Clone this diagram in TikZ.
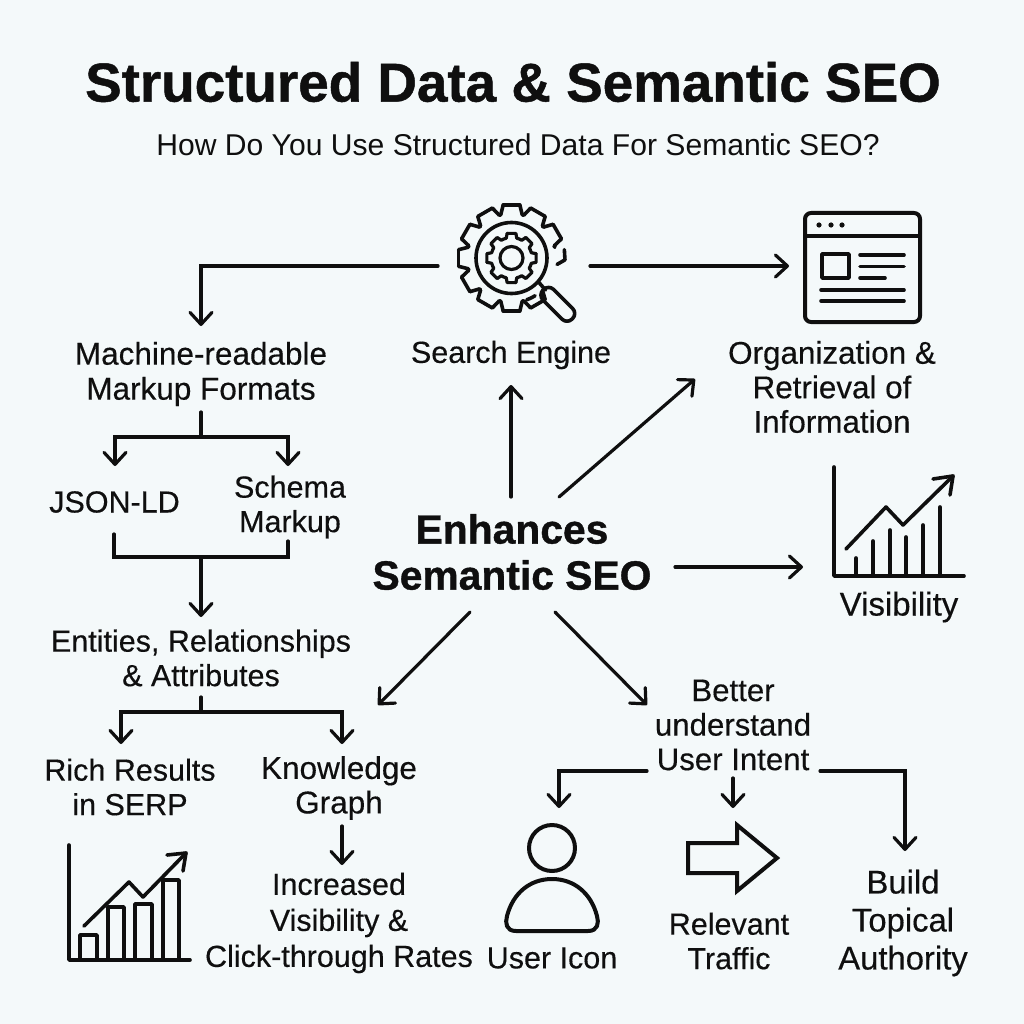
\documentclass[tikz,border=0pt]{standalone}
\usepackage{fontspec}
\setmainfont{Liberation Sans}
\newfontfamily\medfont[FakeBold=0.35]{Liberation Sans}
\newfontfamily\heavyfont[UprightFont=* Bold,FakeBold=0.9]{Liberation Sans}
\usetikzlibrary{arrows.meta}
\definecolor{bg}{HTML}{F4F9FA}
\definecolor{ink}{HTML}{0F0F0F}
\tikzset{
  lbl/.style={text=ink,align=center,inner sep=0pt,font=\fontsize{30.5}{34.5}\medfont\selectfont},
  head/.style={text=ink,align=center,inner sep=0pt,font=\fontsize{40.8}{46}\heavyfont\selectfont},
  conn/.style={draw=ink,line width=3.2pt,line cap=round,line join=miter},
  arr/.style={conn,-{Straight Barb[length=12pt,width=22pt,line width=3.2pt,round]}},
  icon/.style={draw=ink,line width=3.6pt,line cap=round,line join=round},
}
\begin{document}
\begin{tikzpicture}[x=1pt,y=-1pt]
\useasboundingbox (0,0) rectangle (1024,1024);
\fill[bg] (0,0) rectangle (1024,1024);
% texts
\node[text=ink,inner sep=0pt,font=\fontsize{54.8}{60}\heavyfont\selectfont] (title) at (513,82) {Structured Data \& Semantic SEO};
\node[text=ink,inner sep=0pt,font=\fontsize{30.1}{34}\selectfont] (sub) at (518,145) {How Do You Use Structured Data For Semantic SEO?};
\node[lbl,font=\fontsize{31.5}{35}\medfont\selectfont] (markup) at (201,374) {Machine-readable\\Markup Formats};
\node[lbl] (search) at (511,355) {Search Engine};
\node[lbl,font=\fontsize{31.4}{34.5}\medfont\selectfont] (org) at (832,387) {Organization \&\\Retrieval of\\Information};
\node[lbl] (json) at (114.5,502) {JSON-LD};
\node[lbl] (schema) at (290,507) {Schema\\Markup};
\node[head] (seo) at (512,552) {Enhances\\Semantic SEO};
\node[lbl,font=\fontsize{33}{35}\medfont\selectfont] (vis) at (899,607) {Visibility};
\node[lbl] (ent) at (201,658) {Entities, Relationships\\\& Attributes};
\node[lbl,font=\fontsize{31.2}{34.5}\medfont\selectfont] (intent) at (733,725) {Better\\understand\\User Intent};
\node[lbl] (rich) at (130,787) {Rich Results\\in SERP};
\node[lbl,font=\fontsize{31.5}{34.5}\medfont\selectfont] (kg) at (339,788) {Knowledge\\Graph};
\node[lbl,font=\fontsize{30.5}{36}\medfont\selectfont] (inc) at (339,923) {Increased\\Visibility \&\\Click-through Rates};
\node[lbl] (usr) at (552,958) {User Icon};
\node[lbl] (traffic) at (729,941) {Relevant\\Traffic};
\node[lbl,font=\fontsize{32.8}{38}\medfont\selectfont] (auth) at (903,923) {Build\\Topical\\Authority};
% connector ends
\foreach \n/\x/\y in {a1/438/266,a2/201/266,a3/201/326,b1/590/266,b2/789/266,
  c1/511/497,c2/511/385,d1/559/497,d2/695/379,e1/675/567,e2/803/567,
  f1/470/612,f2/378/705,g1/555/612,g2/647/705,
  h1/201/412,h2/201/437,h3/115/437,h4/115/466,h5/288/437,h6/288/466,
  i1/114/534,i2/114/557,i3/288/557,i4/288/541,i5/201/557,i6/201/617,
  j1/201/697,j2/201/712,j3/121/712,j4/121/744,j5/342/712,j6/342/744,
  k1/342/826,k2/342/865,
  l1/647/771,l2/559/771,l3/559/808,m1/733/778,m2/733/808,n1/820/771,n2/905/771,n3/905/851}
  {\coordinate (\n) at (\x,\y);}
\draw[arr] (a1)--(a2)--(a3);
\draw[arr] (b1)--(b2);
\draw[arr] (c1)--(c2);
\draw[arr] (d1)--(d2);
\draw[arr] (e1)--(e2);
\draw[arr] (f1)--(f2);
\draw[arr] (g1)--(g2);
\draw[conn] (h1)--(h2);
\draw[arr] (h2)--(h3)--(h4);
\draw[arr] (h2)--(h5)--(h6);
\draw[conn] (i1)--(i2)--(i3)--(i4);
\draw[arr] (i5)--(i6);
\draw[conn] (j1)--(j2);
\draw[arr] (j2)--(j3)--(j4);
\draw[arr] (j2)--(j5)--(j6);
\draw[arr] (k1)--(k2);
\draw[arr] (l1)--(l2)--(l3);
\draw[arr] (m1)--(m2);
\draw[arr] (n1)--(n2)--(n3);
% gear + magnifier
\begin{scope}[shift={(511.5,258)}]
  \foreach \a in {0,30,...,330}{
    \pgfmathsetmacro{\skip}{(\a==30||\a==0)?1:0}
    \ifdim\skip pt=0pt
    \draw[icon] (\a-9:53.5)--(\a+9:53.5);
    \draw[icon] (\a-9:53.5)--(\a-14:44.5);
    \draw[icon] (\a+9:53.5)--(\a+14:44.5);
    \draw[icon] (\a+14:44.5)--(\a+16:44.5);
    \fi
  }
  \draw[icon] (-16:44.5)--(-14:44.5);
  \draw[icon] (-9:53.5)--(2:53.5)--(8:46);
  \draw[icon] (58:44.5)--(64:44.5)--(70:44.5);
  \draw[icon] (0,0) circle[radius=35.5];
  \foreach \a in {0,45,...,315}{
    \draw[icon,line width=3.2pt] (\a-10:25)--(\a+10:25)--(\a+15:20.5)--(\a+22:20.5)--(\a+30:20.5)--(\a+35:25);
  }
  \draw[icon,line width=3.2pt] (0,0) circle[radius=11.5];
  \draw[icon] (27,24)--(34,32);
  \begin{scope}[rotate=-45]
    \draw[icon,rounded corners=7pt] (45,-7.5) rectangle (86,7.5);
  \end{scope}
\end{scope}
% browser
\draw[icon,line width=4pt,rounded corners=6pt] (805,213) rectangle (920,322);
\draw[icon] (805,236)--(920,236);
\foreach \x in {819,831,842}{\fill[ink] (\x,225) circle[radius=2.6];}
\draw[icon] (822,254) rectangle (849,278);
\draw[icon] (860,255)--(904,255);
\draw[icon] (860,266.5)--(904,266.5);
\draw[icon] (860,278)--(885,278);
\draw[icon] (821,290)--(904,290);
\draw[icon] (821,301)--(904,301);
% chart with thin bars
\draw[icon] (834,467)--(834,576)--(964,576);
\foreach \x/\y in {856/558,873/541,890/530,906/537,923/525,940/507}{\draw[icon] (\x,576)--(\x,\y);}
\draw[icon] (846,549)--(886,507)--(903,525)--(953,476);
\draw[icon] (933,479)--(953,476)--(950,495);
% chart with bars
\draw[icon] (69,845)--(69,960)--(190,960);
\foreach \a/\b/\y in {80/97/935,108/124/907,135/152/904,163/179/880}{\draw[icon] (\a,960)--(\a,\y)--(\b,\y)--(\b,960);}
\draw[icon] (84,926)--(129,882)--(143,897)--(186,853);
\draw[icon] (167,855)--(186,853)--(183,871);
% user
\draw[icon,line width=4pt] (552,848) circle[radius=23];
\draw[icon,line width=4pt] (516,931)--(588,931) .. controls (598,931) and (599,923) .. (597,916) .. controls (591,893) and (574,879) .. (552,879) .. controls (530,879) and (513,893) .. (507,916) .. controls (505,923) and (506,931) .. (516,931)--cycle;
% hollow arrow
\draw[icon,line width=4pt,line join=miter] (688,843)--(737,843)--(737,825)--(777,858)--(737,891)--(737,873)--(688,873)--cycle;
\end{tikzpicture}
\end{document}
